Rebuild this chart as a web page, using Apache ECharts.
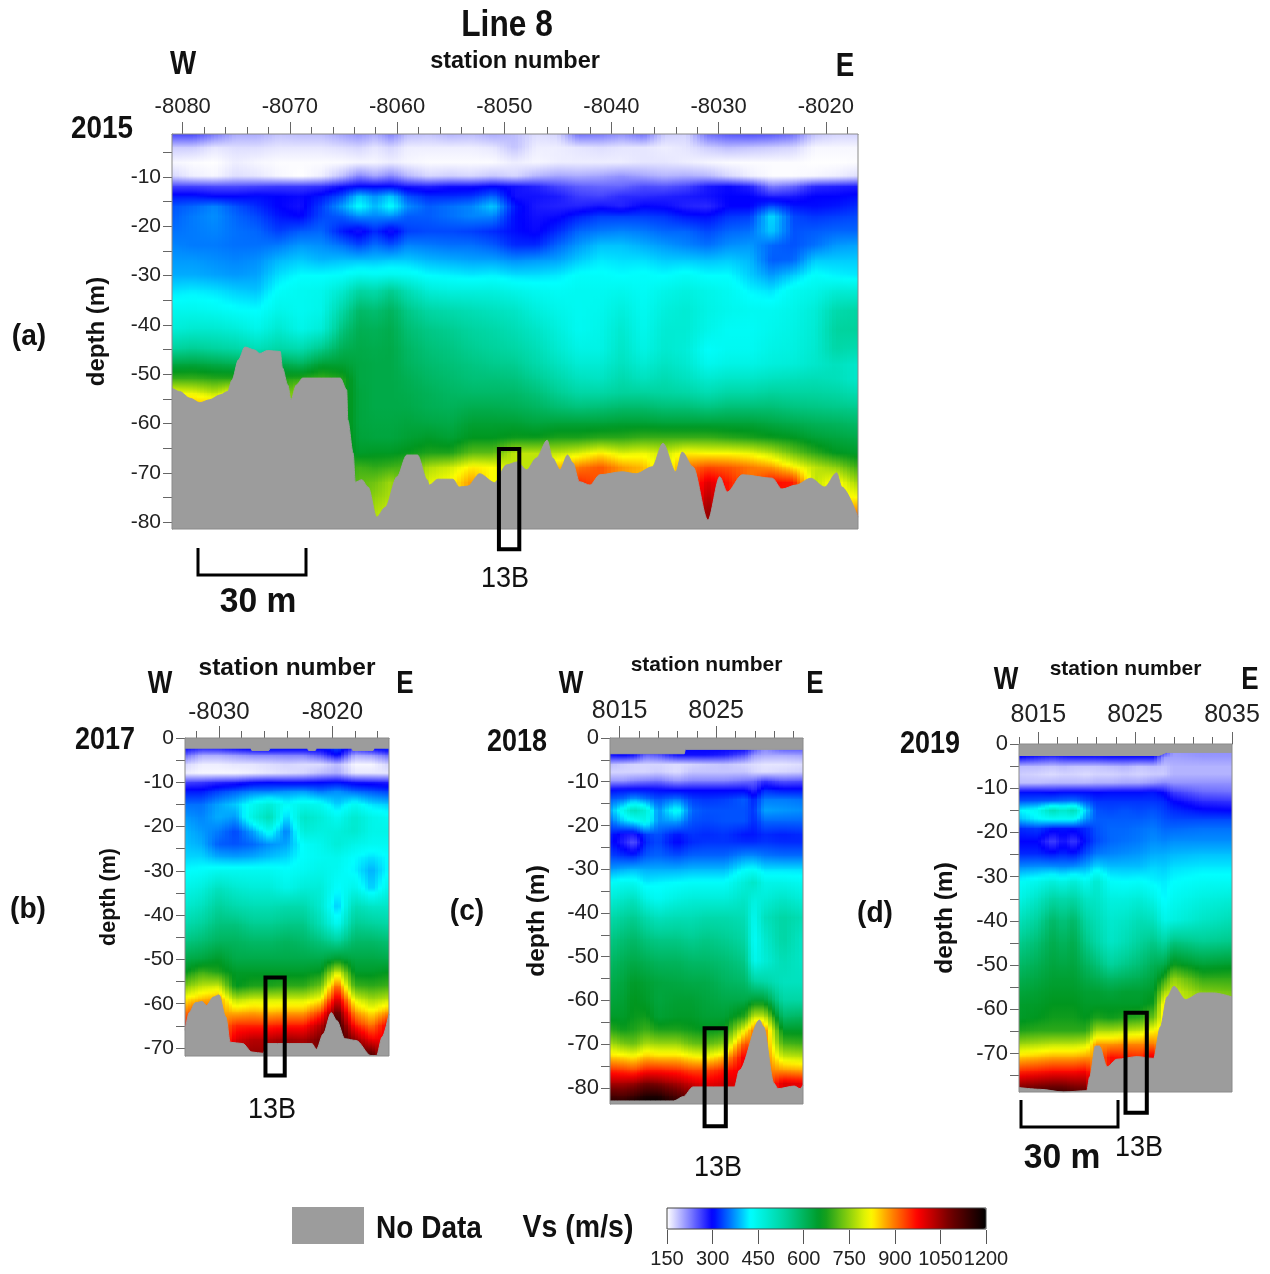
<!DOCTYPE html>
<html>
<head>
<meta charset="utf-8">
<style>html,body{margin:0;padding:0;background:#fff}#c{width:1270px;height:1274px}</style>
<script src="https://cdn.jsdelivr.net/npm/echarts@6/dist/echarts.min.js"></script>
</head>
<body>
<div id="c"></div>
<script>
// ---------- colour scale ----------
const vsTicks = [150,300,450,600,750,900,1050,1200];
const vsColorStops = [[150,[255,255,255]],[300,[0,0,255]],[425,[0,255,255]],[540,[0,210,155]],[660,[0,150,30]],[820,[255,255,0]],[880,[255,150,0]],[975,[255,0,0]],[1085,[110,0,0]],[1200,[0,0,0]]];

// ---------- panel (a) 2015 ----------
const stationsA = [-8081,-8079,-8077,-8075,-8073,-8071,-8069,-8067,-8065,-8063.5,-8062,-8060.5,-8059,-8057,-8055,-8053,-8051,-8049,-8047,-8045,-8043,-8041,-8039,-8037,-8035,-8033,-8031,-8029,-8027,-8025,-8023,-8021,-8019,-8017];
const depthsA = [-1.3,-4,-7,-10,-12,-14,-16,-18,-21,-24,-27,-30,-33,-37,-41,-45,-48,-51,-54,-57,-60,-63,-66,-69,-72,-75,-78,-81.4];
const vsA = [
[260,180,155,175,260,310,340,345,355,365,375,385,410,445,470,540,625,700,820],
[260,180,152,160,260,310,350,360,360,360,375,385,415,445,480,550,630,700,810,880],
[230,165,150,155,255,300,365,370,365,360,370,380,410,440,480,540,620,690,780,880],
[200,170,160,170,255,300,340,350,355,355,365,375,400,430,470,530,610,690,830],
[200,170,155,165,260,305,320,335,350,355,370,380,395,425,450,510,600,700],
[185,165,152,155,265,300,300,310,330,360,390,410,430,450,480,530,620,680],
[190,165,152,150,265,295,290,300,345,375,400,425,440,440,450,520,600,690,780],
[190,165,152,160,270,310,330,335,350,370,390,425,445,450,470,560,640,700],
[205,170,152,190,290,340,380,345,310,355,395,430,480,530,570,610,640,680],
[215,175,155,225,300,400,430,370,290,335,395,445,530,590,610,620,625,625,630,630,630,635,650,700,720],
[200,165,155,205,300,370,390,365,320,355,395,440,520,580,605,615,620,620,620,620,625,630,655,690,730,750,770],
[225,175,160,225,300,400,430,370,290,340,400,445,550,600,615,620,620,620,620,620,625,630,655,700,760,770,790],
[190,160,155,195,285,340,370,345,330,365,400,440,510,560,580,595,600,610,615,620,630,640,665,710],
[185,160,152,175,280,320,345,345,335,360,390,425,470,530,560,575,585,595,605,610,625,650,680,770,800],
[195,160,152,180,290,320,355,355,335,355,385,420,460,520,550,565,575,585,595,605,620,640,680,790,820],
[190,160,152,175,290,325,365,365,330,355,380,415,460,510,535,550,565,575,590,615,640,660,720,830,880],
[200,165,152,185,300,350,400,365,320,345,380,420,460,500,525,540,555,575,590,615,640,660,720,820],
[190,185,160,175,290,290,310,305,305,320,370,410,450,490,510,530,550,570,590,610,640,670,780],
[170,160,155,195,280,290,285,290,295,320,375,410,440,465,490,510,525,550,575,600,630,670,780],
[175,160,160,205,260,285,280,295,320,350,380,415,435,450,465,480,500,525,550,585,635,680,780,860],
[235,165,160,200,245,265,280,315,350,375,400,430,440,440,440,455,475,500,530,575,635,680,800,900,950],
[230,170,160,205,240,260,290,330,360,395,415,430,440,445,450,455,475,495,530,580,635,690,830,920],
[215,165,160,215,240,275,280,330,365,395,410,425,445,465,480,490,500,520,540,590,640,690,800,880],
[235,165,165,205,255,275,300,330,360,385,410,430,435,440,445,455,475,500,540,590,640,700,810,860],
[180,160,165,195,250,280,295,325,350,375,400,425,450,465,475,480,495,515,535,580,635,700,790],
[175,165,160,200,260,285,280,310,350,365,400,435,460,475,475,470,480,500,530,580,635,700,830,900],
[235,180,155,195,285,290,275,305,335,355,395,425,450,455,450,430,445,480,515,570,635,700,820,930,1000,1030,1060],
[250,190,152,175,295,300,300,325,350,370,400,425,440,445,435,440,455,490,530,580,635,690,820,920,960],
[255,185,152,160,280,300,300,330,355,375,390,400,420,440,435,440,455,490,530,580,635,680,810,900],
[250,180,152,152,225,280,340,410,400,350,345,375,410,440,445,455,465,500,540,580,625,670,780,880,970],
[235,175,152,152,240,285,310,335,340,340,350,400,440,450,455,460,470,505,535,570,615,660,730,830,960],
[185,155,150,155,275,300,305,325,345,355,400,430,450,470,475,480,485,510,535,565,605,640,690,780],
[175,155,150,160,280,300,310,330,350,375,400,420,470,520,535,525,500,505,530,560,600,630,660,750,830],
[175,155,152,170,285,305,320,335,350,380,400,415,470,530,540,515,485,485,515,555,590,620,650,700,760,820,900,980]
];
const bottomA = [[-8081,-52.8],[-8080.3,-53.5],[-8079.3,-54.9],[-8078.4,-55.8],[-8077.5,-55.2],[-8076.5,-54.2],[-8075.8,-53.5],[-8075.4,-51.2],[-8074.8,-47.1],[-8074.2,-44.5],[-8073.3,-45.1],[-8072.8,-45.8],[-8072.1,-45.2],[-8070.9,-45.4],[-8070.7,-48.7],[-8070.2,-52.2],[-8069.9,-55.2],[-8069.4,-52.2],[-8068.8,-50.8],[-8065.3,-50.8],[-8064.7,-53.2],[-8064.6,-59.3],[-8064.1,-66],[-8063.9,-71.9],[-8063.3,-71.4],[-8062.7,-72.9],[-8061.9,-79],[-8061.1,-77],[-8060,-70.8],[-8059.1,-66.4],[-8058.1,-66.4],[-8057.2,-71.4],[-8057,-72.5],[-8056.2,-71.3],[-8054.8,-71.3],[-8054.2,-72.9],[-8053.4,-72.7],[-8052.3,-70.2],[-8050.9,-72],[-8049.8,-68.4],[-8048.8,-67.8],[-8047.9,-69.4],[-8047,-67],[-8046,-63.4],[-8045.5,-67],[-8044.8,-69.4],[-8044.1,-66.4],[-8043.6,-68],[-8043,-71.8],[-8042,-72.5],[-8041.1,-70.4],[-8039,-69.8],[-8037.7,-70.2],[-8036.2,-68.8],[-8035.2,-64],[-8034,-69.8],[-8033.4,-65.8],[-8032.4,-68.8],[-8031,-79.6],[-8029.9,-70.8],[-8029.2,-73.9],[-8027.8,-70.4],[-8025,-71.1],[-8024.1,-73.3],[-8022.8,-72.5],[-8021.4,-71.1],[-8020.1,-72.9],[-8019,-70],[-8018.5,-72.9],[-8017,-79]];
const xLabelsA = [-8080,-8070,-8060,-8050,-8040,-8030,-8020];
const xMinorA = [-8080,-8078,-8076,-8074,-8072,-8070,-8068,-8066,-8064,-8062,-8060,-8058,-8056,-8054,-8052,-8050,-8048,-8046,-8044,-8042,-8040,-8038,-8036,-8034,-8032,-8030,-8028,-8026,-8024,-8022,-8020,-8018];
const yLabelsA = [-10,-20,-30,-40,-50,-60,-70,-80];
const yTicksA = [-5,-10,-15,-20,-25,-30,-35,-40,-45,-50,-55,-60,-65,-70,-75,-80];
const boxA = [-8050.5,-8048.6,-65.2,-85.5];

// ---------- panel (b) 2017 ----------
const stationsB = [-8033,-8031.5,-8030,-8028.5,-8027,-8025.5,-8024,-8022.5,-8021,-8019.5,-8018,-8016.5,-8015];
const depthsB = [-2,-4,-6,-8,-10,-12,-15,-18,-21,-24,-27,-30,-34,-38,-42,-46,-50,-53,-56,-59,-62,-65,-68,-71.8];
const vsB = [
[310,240,175,160,260,310,355,375,390,395,405,425,450,480,520,565,620,660,740,830,900,970],
[300,200,160,155,265,310,355,365,375,385,405,430,465,500,540,580,630,700,780,860,950],
[305,200,160,155,275,330,380,385,360,345,385,440,500,540,570,600,650,680,790,880],
[320,210,165,155,280,345,400,375,335,340,380,440,480,520,570,600,620,650,660,770,860,950,1000,1050],
[330,220,165,160,295,360,440,460,380,350,385,440,470,510,550,590,620,650,680,790,870,950,1030,1060],
[340,220,170,165,300,360,470,510,440,370,395,440,470,510,550,590,620,650,680,790,860,950,1030,1060],
[330,225,175,170,295,370,430,400,360,380,405,430,450,520,560,600,620,650,690,790,870,960,1050,1060],
[330,225,170,175,295,375,450,490,470,430,430,440,470,520,560,590,620,650,690,790,870,960,1040,1060],
[320,250,170,190,300,355,440,470,460,445,440,450,470,480,510,570,620,660,730,820,930,1030,1080],
[340,300,190,200,305,370,400,440,465,470,445,440,425,395,440,540,650,800,920,1010,1100,1150],
[290,200,155,165,290,350,440,480,480,450,425,420,450,510,550,590,625,650,700,800,880,960,1060,1100],
[320,210,155,165,285,340,410,450,450,440,410,385,400,490,540,590,625,650,690,760,830,900,980,1120],
[340,240,175,165,280,330,400,440,450,440,425,425,450,490,530,580,620,660,700,780,880,990]
];
const bottomB = [[-8033,-66],[-8032.6,-61.9],[-8032.1,-59.8],[-8031.5,-59.5],[-8031.1,-60.4],[-8030.5,-58.5],[-8030,-58],[-8029.4,-63],[-8029,-68.7],[-8027.9,-69],[-8027.1,-70.9],[-8026.1,-71.2],[-8025.8,-69],[-8021.8,-69],[-8021.4,-70.3],[-8020.8,-66.8],[-8020.1,-62],[-8019.6,-63.8],[-8018.9,-67.9],[-8017.9,-68.3],[-8016.6,-71.7],[-8016.1,-71.7],[-8015.6,-67.5],[-8015,-62.3]];
const topB = [[-8033,-2.3],[-8027.2,-2.3],[-8027.1,-2.8],[-8025.6,-2.8],[-8025.5,-2.3],[-8022.2,-2.3],[-8022.1,-2.8],[-8021.5,-2.8],[-8021.4,-2.3],[-8018.3,-2.3],[-8018.2,-2.8],[-8016.4,-2.8],[-8016.3,-2.3],[-8015,-2.3]];
const xLabelsB = [-8030,-8020];
const xMinorB = [-8032,-8030,-8028,-8026,-8024,-8022,-8020,-8018,-8016];
const yLabelsB = [0,-10,-20,-30,-40,-50,-60,-70];
const yTicksB = [0,-5,-10,-15,-20,-25,-30,-35,-40,-45,-50,-55,-60,-65,-70];
const boxB = [-8025.9,-8024.2,-54.1,-76.2];

// ---------- panel (c) 2018 ----------
const stationsC = [8014,8015.5,8016.5,8017.8,8019,8021,8022.5,8024,8026,8028,8029,8030,8032,8034];
const depthsC = [-2.5,-4,-6,-8,-10,-12,-14,-16.5,-19,-22,-24,-27,-30,-33,-37,-41,-46,-51,-56,-60,-64,-67,-70,-73,-76,-79,-82,-83.7];
const vsC = [
[300,290,190,175,215,305,345,380,350,315,310,335,375,430,470,520,560,590,615,630,650,690,770,850,950,1040,1130,1170],
[300,300,180,175,215,310,355,450,400,290,280,325,385,440,490,540,580,610,630,640,650,670,740,840,940,1040,1120,1170],
[300,290,175,175,225,310,380,505,420,285,250,320,390,440,500,550,590,620,650,660,665,680,730,830,930,1050,1140,1190],
[300,240,175,175,230,310,360,470,450,330,320,345,385,415,455,520,570,610,640,650,670,700,770,860,960,1080,1170,1200],
[300,250,175,180,235,305,340,370,370,340,335,350,385,420,440,500,560,600,630,630,640,680,760,850,960,1070,1170,1200],
[300,290,170,170,215,300,360,440,380,310,300,340,385,425,460,510,560,600,625,640,650,680,760,850,950,1040,1120,1160],
[300,290,175,185,225,300,330,350,340,325,320,350,390,430,470,510,550,590,620,640,650,670,730,830,930,1010,1080,1100],
[300,290,180,185,225,300,325,340,335,320,325,350,390,430,470,520,560,590,620,630,640,660,720,820,930,990,1030,1040],
[300,280,185,185,225,300,330,340,340,325,325,350,390,430,470,520,550,580,600,620,640,670,750,860,960,1010],
[300,250,175,185,235,300,345,340,340,310,320,370,425,470,490,510,530,560,590,620,690,820,930,990],
[260,210,170,175,240,275,315,325,320,310,320,370,430,490,460,440,430,445,540,640,790,900],
[220,200,165,170,270,320,360,380,350,320,325,360,410,450,470,500,480,470,530,640,790,900],
[250,200,165,175,250,310,360,375,350,315,320,355,410,450,490,530,530,510,500,530,590,650,710,790,880,1000],
[250,205,170,180,255,310,355,370,350,320,320,355,410,440,470,510,490,490,500,530,600,650,700,780,870,990]
];
const bottomC = [[8014,-83],[8020.6,-83],[8021.6,-82],[8022.6,-79.8],[8026.9,-79.8],[8027.4,-76],[8029.5,-64.5],[8029.9,-66],[8031,-79],[8031.4,-80.2],[8033.1,-79.6],[8033.7,-80.2],[8034,-79.4]];
const topC = [[8014,-3.6],[8021.7,-3.6],[8021.8,-2.6],[8034,-2.6]];
const xLabelsC = [8015,8025];
const xMinorC = [8015,8017,8019,8021,8023,8025,8027,8029,8031,8033];
const yLabelsC = [0,-10,-20,-30,-40,-50,-60,-70,-80];
const yTicksC = [0,-5,-10,-15,-20,-25,-30,-35,-40,-45,-50,-55,-60,-65,-70,-75,-80];
const boxC = [8023.8,8026,-66.4,-88.8];

// ---------- panel (d) 2019 ----------
const stationsD = [8013,8015,8016.5,8017.6,8018.7,8020,8021,8022.5,8024,8025.5,8027,8028,8029,8032,8035];
const depthsD = [-1.9,-3,-5,-7,-9,-11,-13,-15,-17,-19,-22,-25,-28,-31,-35,-40,-45,-50,-53,-56,-59,-62,-65,-68,-71,-74,-78.7];
const vsD = [
[300,300,190,180,190,305,340,420,390,320,300,320,370,430,450,500,550,590,610,630,645,650,680,760,850,950,1100],
[300,280,190,175,190,305,345,440,420,330,300,320,375,445,490,540,580,610,625,640,650,660,690,770,860,960,1120],
[300,270,185,170,195,300,350,510,430,310,260,310,375,465,530,590,615,630,640,650,660,670,690,780,870,970,1130],
[300,280,190,175,195,305,355,480,430,310,290,320,370,450,520,570,600,625,640,650,660,670,690,780,870,970,1130],
[300,285,185,175,195,305,360,510,430,310,265,310,375,470,530,590,615,630,640,650,660,670,690,780,870,970,1110],
[300,285,185,170,195,305,340,400,370,320,310,340,385,440,490,530,560,600,620,640,650,660,690,790,880,980,1100],
[290,285,185,175,200,300,325,340,345,340,335,360,410,480,490,510,530,580,610,640,650,680,770,880],
[290,290,190,175,200,305,325,335,345,350,350,365,395,430,460,480,490,540,590,630,650,670,770,880,970],
[300,290,195,180,205,305,325,340,345,350,355,370,395,425,460,490,510,560,600,640,650,680,780,890,960],
[300,290,185,175,205,305,325,335,345,355,360,375,395,430,470,510,540,580,610,640,650,690,790,890,950],
[300,290,190,180,215,310,325,340,350,360,370,385,405,420,450,500,560,610,630,650,670,730,830,900,1000],
[260,210,185,180,225,295,320,330,340,350,365,385,400,415,420,450,530,620,680,760,840],
[210,205,195,195,215,265,300,320,335,350,370,390,410,425,440,460,570,670,750,790],
[215,210,195,195,215,240,275,305,335,355,370,395,415,435,460,490,550,640,690,740,780],
[215,210,195,195,215,235,270,300,335,355,370,395,415,435,470,510,560,650,690,730,760]
];
const bottomD = [[8013,-77.7],[8015.2,-78.1],[8017.6,-78.7],[8020,-78.4],[8020.3,-75.3],[8020.9,-68.3],[8021.3,-68.3],[8022.1,-73],[8023.1,-71.3],[8025.2,-70.7],[8026.9,-71.1],[8027.6,-64],[8028.3,-57.2],[8029,-54.8],[8030.2,-57.8],[8031.7,-56.3],[8033.1,-56.3],[8035,-57.2]];
const topD = [[8013,-2.6],[8027.5,-2.6],[8028.2,-1.9],[8035,-1.9]];
const xLabelsD = [8015,8025,8035];
const xMinorD = [8013,8015,8017,8019,8021,8023,8025,8027,8029,8031,8033,8035];
const yLabelsD = [0,-10,-20,-30,-40,-50,-60,-70];
const yTicksD = [0,-5,-10,-15,-20,-25,-30,-35,-40,-45,-50,-55,-60,-65,-70,-75];
const boxD = [8024,8026.2,-60.8,-83.4];

// ---------- layout ----------
const FONT = '"Liberation Sans",Arial,sans-serif';
const GRAY = '#9c9c9c';
const panels = [
 {stations:stationsA,depths:depthsA,vs:vsA,bottom:bottomA,top:null,xl:xLabelsA,xm:xMinorA,yl:yLabelsA,yt:yTicksA,box:boxA,
  rect:[172,134,686,395],xr:[-8081,-8017],yr:[-81.4,-1.3],xFont:22,yFont:21,xNameFont:23.5,yNameFont:24,xGap:60,yGap:63,xMargin:16},
 {stations:stationsB,depths:depthsB,vs:vsB,bottom:bottomB,top:topB,xl:xLabelsB,xm:xMinorB,yl:yLabelsB,yt:yTicksB,box:boxB,
  rect:[185,738,204,318],xr:[-8033,-8015],yr:[-71.8,0],xFont:24,yFont:21,xNameFont:24.5,yNameFont:21.5,xGap:57,yGap:65,xMargin:14},
 {stations:stationsC,depths:depthsC,vs:vsC,bottom:bottomC,top:topC,xl:xLabelsC,xm:xMinorC,yl:yLabelsC,yt:yTicksC,box:boxC,
  rect:[610,738,193,366],xr:[8014,8034],yr:[-83.7,0],xFont:25,yFont:22,xNameFont:21,yNameFont:24.5,xGap:62,yGap:60,xMargin:14},
 {stations:stationsD,depths:depthsD,vs:vsD,bottom:bottomD,top:topD,xl:xLabelsD,xm:xMinorD,yl:yLabelsD,yt:yTicksD,box:boxD,
  rect:[1019,744,213,348],xr:[8013,8035],yr:[-78.7,0],xFont:25,yFont:22,xNameFont:21,yNameFont:24.5,xGap:64,yGap:61,xMargin:16}
];

function rgbAt(v){
  const s = vsColorStops;
  if(v<=s[0][0]) return s[0][1];
  for(let k=1;k<s.length;k++){
    if(v<=s[k][0]){
      const t=(v-s[k-1][0])/(s[k][0]-s[k-1][0]);
      return s[k-1][1].map((c,n)=>Math.round(c+(s[k][1][n]-c)*t));
    }
  }
  return s[s.length-1][1];
}
const cssAt = v => 'rgb('+rgbAt(v).join(',')+')';

function cellRenderer(p, table){
  const nx=p.stations.length, ny=p.depths.length;
  return function(params, api){
    const i=params.dataIndex%nx, j=Math.floor(params.dataIndex/nx);
    if(i===nx-1||j===ny-1) return null;
    const a=api.coord([p.stations[i],p.depths[j]]), b=api.coord([p.stations[i+1],p.depths[j+1]]);
    const tl=table[j][i],tr=table[j][i+1],bl=table[j+1][i],br=table[j+1][i+1];
    const n=Math.max(1,Math.ceil((b[0]-a[0])/4)), kids=[];
    const y0=Math.floor(a[1]), y1=Math.ceil(b[1]);
    for(let k=0;k<n;k++){
      const t=(k+.5)/n, vt=tl+(tr-tl)*t, vb=bl+(br-bl)*t;
      const x0=Math.floor(a[0]+(b[0]-a[0])*k/n), x1=Math.ceil(a[0]+(b[0]-a[0])*(k+1)/n);
      const stops=[0,.25,.5,.75,1].map(u=>({offset:u,color:cssAt(vt+(vb-vt)*u)}));
      kids.push({type:'rect',shape:{x:x0,y:y0,width:x1-x0,height:y1-y0},
        style:{fill:new echarts.graphic.LinearGradient(0,0,0,1,stops)},silent:true});
    }
    return {type:'group',children:kids};
  };
}
function boxRenderer(params, api){
  const a=api.coord([api.value(0),api.value(2)]), b=api.coord([api.value(1),api.value(3)]);
  return {type:'rect',shape:{x:a[0],y:a[1],width:b[0]-a[0],height:b[1]-a[1]},
    style:{fill:'none',stroke:'#000',lineWidth:4},z2:50};
}

const grids=[],xAxes=[],yAxes=[],series=[];
const cellSeries=[],maskSeries=[],boxSeries=[];
panels.forEach((p,idx)=>{
  const [l,t,w,h]=p.rect;
  grids.push({left:l,top:t,width:w,height:h,containLabel:false,show:true,borderColor:'#8a8a8a',borderWidth:1,backgroundColor:'transparent',z:6});
  const xBase={type:'value',position:'top',gridIndex:idx,min:p.xr[0],max:p.xr[1],splitLine:{show:false}};
  xAxes.push(Object.assign({},xBase,{name:'station number',nameLocation:'middle',nameGap:p.xGap,
    nameTextStyle:{fontFamily:FONT,fontWeight:'bold',fontSize:p.xNameFont,color:'#111'},
    axisLine:{show:true,lineStyle:{color:'#777'}},
    axisTick:{show:true,length:12,customValues:p.xl,lineStyle:{color:'#666'}},
    axisLabel:{show:true,customValues:p.xl,formatter:v=>String(v),margin:p.xMargin,fontFamily:FONT,fontSize:p.xFont,color:'#222',showMinLabel:true,showMaxLabel:true}}));
  xAxes.push(Object.assign({},xBase,{axisLine:{show:false},
    axisTick:{show:true,length:7,customValues:p.xm,lineStyle:{color:'#666'}},axisLabel:{show:false}}));
  yAxes.push({type:'value',gridIndex:idx,min:p.yr[0],max:p.yr[1],splitLine:{show:false},
    name:'depth (m)',nameLocation:'middle',nameGap:p.yGap,nameRotate:90,
    nameTextStyle:{fontFamily:FONT,fontWeight:'bold',fontSize:p.yNameFont,color:'#111'},
    axisLine:{show:true,lineStyle:{color:'#777'}},
    axisTick:{show:true,length:9,customValues:p.yt,lineStyle:{color:'#666'}},
    axisLabel:{show:true,customValues:p.yl,formatter:v=>String(v),margin:11,fontFamily:FONT,fontSize:p.yFont,color:'#222',showMinLabel:true,showMaxLabel:true}});
  const nx=p.stations.length, ny=p.depths.length, table=[], data=[];
  for(let j=0;j<ny;j++){
    const row=[];
    for(let i=0;i<nx;i++){
      const col=p.vs[i], v=col[Math.min(j,col.length-1)];
      row.push(v); data.push([p.stations[i],p.depths[j],v]);
    }
    table.push(row);
  }
  cellSeries.push({type:'custom',name:'Vs '+idx,coordinateSystem:'cartesian2d',xAxisIndex:idx*2,yAxisIndex:idx,
    data:data,encode:{x:0,y:1},renderItem:cellRenderer(p,table),clip:true,silent:true,z:2,progressive:0,animation:false});
  const maskStyle={color:GRAY,opacity:1};
  maskSeries.push({type:'line',name:'No Data',xAxisIndex:idx*2,yAxisIndex:idx,data:p.bottom,symbol:'none',smooth:0.3,smoothMonotone:'x',silent:true,z:3,
    lineStyle:{color:GRAY,width:1},itemStyle:{color:GRAY},areaStyle:Object.assign({origin:'start'},maskStyle),animation:false});
  if(p.top) maskSeries.push({type:'line',name:'No Data',xAxisIndex:idx*2,yAxisIndex:idx,data:p.top,symbol:'none',silent:true,z:3,
    lineStyle:{color:GRAY,width:1},itemStyle:{color:GRAY},areaStyle:Object.assign({origin:'end'},maskStyle),animation:false});
  boxSeries.push({type:'custom',name:'13B',coordinateSystem:'cartesian2d',xAxisIndex:idx*2,yAxisIndex:idx,
    data:[p.box],encode:{x:[0,1],y:[2,3]},renderItem:boxRenderer,clip:false,silent:true,z:8,animation:false});
});
series.push(...cellSeries,...maskSeries,...boxSeries);

// colour bar axis
grids.push({left:667,top:1229,width:319,height:1,show:false});
xAxes.push({type:'value',gridIndex:4,position:'bottom',min:150,max:1200,interval:150,splitLine:{show:false},
  axisLine:{show:false},axisTick:{show:true,length:14,lineStyle:{color:'#555'}},
  axisLabel:{show:true,margin:19,formatter:v=>String(v),fontFamily:FONT,fontSize:20,color:'#222',showMinLabel:true,showMaxLabel:true,hideOverlap:false}});
yAxes.push({type:'value',gridIndex:4,show:false,min:0,max:1});

const barColors=[];
for(let v=150;v<=1200;v+=25) barColors.push(cssAt(v));

const T=(text,x,y,size,bold,sx)=>({type:'text',x:x,y:y+2,scaleX:sx===undefined?0.87:sx,silent:true,z:20,
  style:{text:text,fill:'#111',font:(bold?'bold ':'')+size+'px '+FONT,textAlign:'center',textVerticalAlign:'middle'}});
const bracket=(x0,x1,y0,y1)=>({type:'polyline',silent:true,z:20,shape:{points:[[x0,y0],[x0,y1],[x1,y1],[x1,y0]]},
  style:{stroke:'#000',lineWidth:3,fill:'none'}});

const graphic=[
  T('Line 8',507,24,36,true,0.88),
  T('W',183,63,33,true,0.84),T('E',845,65,33,true,0.84),T('2015',102,127,32,true),T('(a)',29,335,29,true,0.97),
  T('13B',505,577,30,false,0.9),T('30 m',258,600,35,true,0.96),bracket(198,306,548,575),
  T('W',160,682,31,true,0.84),T('E',405,682,31,true,0.84),T('2017',105,738,31,true),T('(b)',28,908,29,true,0.97),T('13B',272,1108,30,false,0.9),
  T('W',571,682,31,true,0.84),T('E',815,682,31,true,0.84),T('2018',517,740,31,true),T('(c)',467,910,29,true,0.97),T('13B',718,1166,30,false,0.9),
  T('W',1006,678,31,true,0.84),T('E',1250,678,31,true,0.84),T('2019',930,742,31,true),T('(d)',875,912,29,true,0.97),T('13B',1139,1146,30,false,0.9),
  T('30 m',1062,1156,35,true,0.96),bracket(1021,1118,1100,1127),
  {type:'rect',silent:true,z:20,shape:{x:292,y:1207,width:72,height:37},style:{fill:GRAY}},
  T('No Data',429,1227,32,true,0.875),T('Vs (m/s)',578,1226,32,true,0.89),
  {type:'rect',silent:true,z:20,shape:{x:667,y:1208,width:319,height:21},style:{fill:'none',stroke:'#444',lineWidth:1}},
  {type:'rect',silent:true,z:30,shape:{x:1259,y:650,width:11,height:100},style:{fill:'#fff'}}
];

const chart=echarts.init(document.getElementById('c'),null,{renderer:'canvas',width:1270,height:1274});
chart.setOption({
  animation:false,backgroundColor:'#fff',tooltip:{show:false},
  grid:grids,xAxis:xAxes,yAxis:yAxes,series:series,graphic:graphic,
  visualMap:{type:'continuous',show:true,seriesIndex:[0,1,2,3],dimension:2,min:150,max:1200,orient:'horizontal',
    left:667,top:1208,padding:0,itemHeight:319,itemWidth:21,calculable:false,hoverLink:false,text:null,inRange:{color:barColors}}
});
</script>
</body>
</html>
